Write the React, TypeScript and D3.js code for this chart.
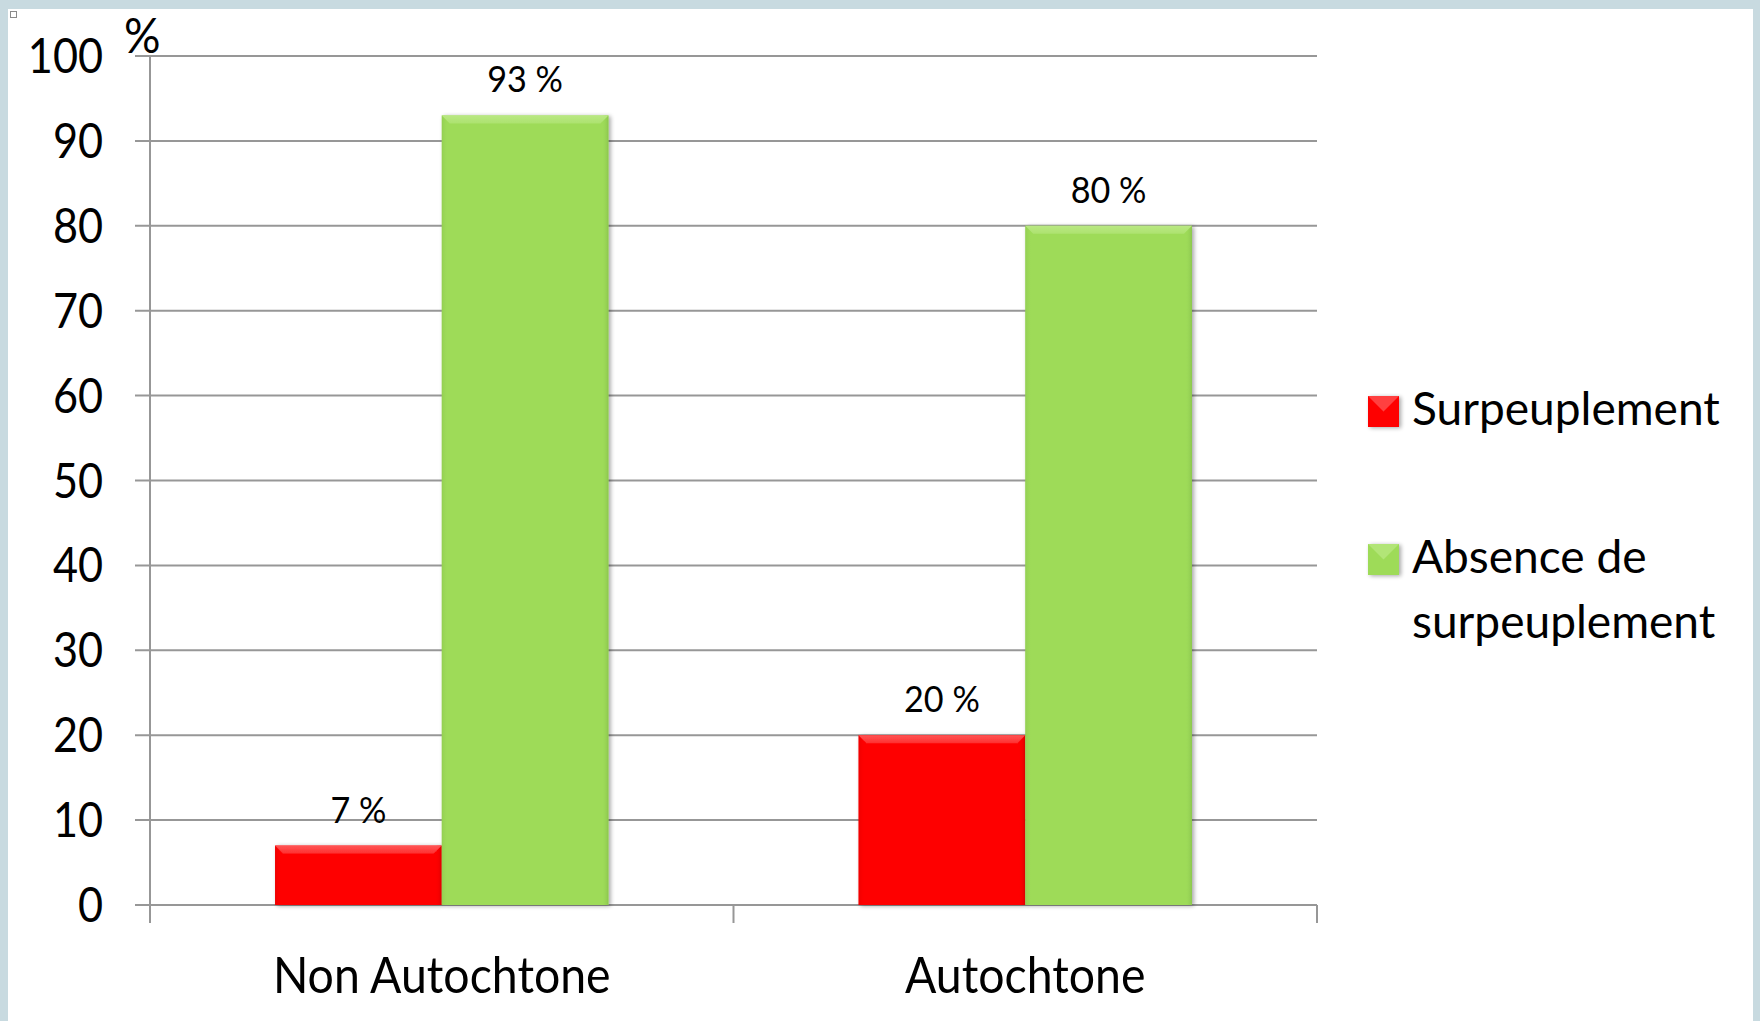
import React from "react";
import * as d3 from "d3";

// Data
const categories = ["Non Autochtone", "Autochtone"];
const seriesNames = ["Surpeuplement", "Absence de surpeuplement"];
const surpeuplement = [7, 20];
const absence = [93, 80];
const yTicks = [0, 10, 20, 30, 40, 50, 60, 70, 80, 90, 100];

const W = 1760;
const H = 1021;
const FONT = "Lato, 'Open Sans', sans-serif";

const palette = [
  { base: "#fe0505", light: "#ff5a5a", dark: "#d00000" },
  { base: "#9edb59", light: "#bbe985", dark: "#7eb744" },
];

// Text drawn slightly condensed horizontally around its anchor point
function Label(props: {
  x: number;
  y: number;
  size: number;
  sx?: number;
  anchor?: "start" | "middle" | "end";
  children: React.ReactNode;
}) {
  const { x, y, size, sx = 1, anchor = "start", children } = props;
  return (
    <text
      transform={`translate(${x},${y}) scale(${sx},1)`}
      textAnchor={anchor}
      fontFamily={FONT}
      fontSize={size}
      fill="#000"
    >
      {children}
    </text>
  );
}

export default function App() {
  const plotLeft = 150;
  const plotRight = 1317;
  const plotTop = 56;
  const plotBottom = 905;

  const y = d3.scaleLinear().domain([0, 100]).range([plotBottom, plotTop]);
  const x = d3.scaleBand<string>().domain(categories).range([plotLeft, plotRight]);
  const xs = d3
    .scaleBand<string>()
    .domain(seriesNames)
    .range([0, x.bandwidth()])
    .paddingInner(0)
    .paddingOuter(0.75);

  const values = [surpeuplement, absence];

  const bars = categories.flatMap((c, ci) =>
    seriesNames.map((s, si) => ({
      cat: c,
      series: s,
      si,
      value: values[si][ci],
      x0: (x(c) ?? 0) + (xs(s) ?? 0),
      w: xs.bandwidth(),
    }))
  );

  const bevel = 8;

  return (
    <svg width={W} height={H} style={{ display: "block", position: "absolute", left: 0, top: 0 }}>
      <defs>
        <filter id="shadow" x="-10%" y="-10%" width="130%" height="130%">
          <feGaussianBlur in="SourceAlpha" stdDeviation="2" />
          <feOffset dx="2" dy="1" result="b" />
          <feComponentTransfer>
            <feFuncA type="linear" slope="0.35" />
          </feComponentTransfer>
          <feMerge>
            <feMergeNode />
            <feMergeNode in="SourceGraphic" />
          </feMerge>
        </filter>
        {palette.map((p, i) => (
          <linearGradient key={i} id={`side${i}`} x1="0" x2="1" y1="0" y2="0">
            <stop offset="0" stopColor={p.dark} stopOpacity="0.35" />
            <stop offset="0.04" stopColor={p.base} stopOpacity="0" />
            <stop offset="0.96" stopColor={p.base} stopOpacity="0" />
            <stop offset="1" stopColor={p.dark} stopOpacity="0.6" />
          </linearGradient>
        ))}
        {palette.map((p, i) => (
          <linearGradient key={`t${i}`} id={`top${i}`} x1="0" x2="0" y1="0" y2="1">
            <stop offset="0" stopColor={p.light} stopOpacity="0.95" />
            <stop offset="1" stopColor={p.light} stopOpacity="0.5" />
          </linearGradient>
        ))}
      </defs>

      {/* frame */}
      <rect x={0} y={0} width={W} height={H} fill="#c8dae0" />
      <rect x={8} y={9} width={1745} height={H - 9} fill="#ffffff" />
      <rect x={10.5} y={11.5} width={6} height={6} fill="#fff" stroke="#8a8a8a" strokeWidth={1} />

      {/* gridlines */}
      {yTicks.map((t) => (
        <line
          key={t}
          x1={135}
          x2={plotRight}
          y1={y(t)}
          y2={y(t)}
          stroke="#979797"
          strokeWidth={2}
        />
      ))}

      {/* axes */}
      <line x1={plotLeft} x2={plotLeft} y1={plotTop} y2={923} stroke="#979797" strokeWidth={2} />
      {[plotLeft, ...categories.map((c) => (x(c) ?? 0) + x.bandwidth())].map((tx, i) => (
        <line key={i} x1={tx} x2={tx} y1={plotBottom} y2={923} stroke="#979797" strokeWidth={2} />
      ))}

      {/* bars */}
      {bars.map((b, i) => {
        const p = palette[b.si];
        const top = y(b.value);
        const h = plotBottom - top;
        const bv = Math.min(bevel, h / 2);
        return (
          <g key={i} filter="url(#shadow)">
            <rect x={b.x0} y={top} width={b.w} height={h} fill={p.base} />
            <rect x={b.x0} y={top} width={b.w} height={h} fill={`url(#side${b.si})`} />
            <polygon
              points={`${b.x0},${top} ${b.x0 + b.w},${top} ${b.x0 + b.w - bv},${top + bv} ${b.x0 + bv},${top + bv}`}
              fill={`url(#top${b.si})`}
            />
          </g>
        );
      })}

      {/* value labels */}
      {bars.map((b, i) => (
        <Label key={`l${i}`} x={b.x0 + b.w / 2} y={y(b.value) - 23} size={36} sx={0.95} anchor="middle">
          {`${b.value} %`}
        </Label>
      ))}

      {/* y tick labels */}
      {yTicks.map((t) => (
        <Label key={`t${t}`} x={103} y={y(t) + 17} size={48} sx={0.9} anchor="end">
          {t}
        </Label>
      ))}
      <Label x={124} y={53} size={48} sx={0.95}>
        %
      </Label>

      {/* category labels */}
      {categories.map((c) => (
        <Label key={c} x={(x(c) ?? 0) + x.bandwidth() / 2} y={993} size={51} sx={0.91} anchor="middle">
          {c}
        </Label>
      ))}

      {/* legend */}
      {[
        { si: 0, sy: 396, lines: ["Surpeuplement"], by: 425 },
        { si: 1, sy: 544, lines: ["Absence de", "surpeuplement"], by: 573 },
      ].map((l) => {
        const p = palette[l.si];
        return (
          <g key={l.si}>
            <g filter="url(#shadow)">
              <rect x={1368} y={l.sy} width={31} height={31} fill={p.base} />
              <polygon
                points={`1368,${l.sy} 1399,${l.sy} 1383.5,${l.sy + 15.5}`}
                fill={p.light}
                opacity={0.7}
              />
            </g>
            {l.lines.map((ln, k) => (
              <Label key={k} x={1412} y={l.by + k * 65} size={47} sx={0.98}>
                {ln}
              </Label>
            ))}
          </g>
        );
      })}
    </svg>
  );
}
